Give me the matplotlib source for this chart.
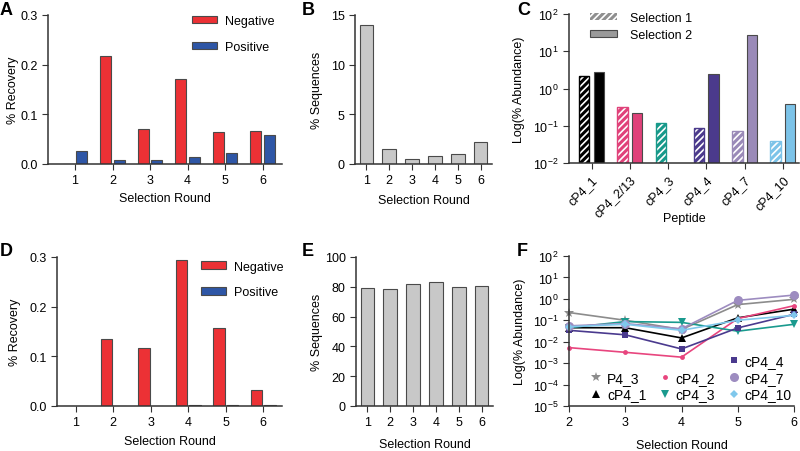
import numpy as np
import matplotlib
matplotlib.use("Agg")
import matplotlib.pyplot as plt
from matplotlib.patches import Patch
from matplotlib.lines import Line2D
from matplotlib.ticker import LogLocator, LogFormatterMathtext, NullLocator

plt.rcParams['font.family'] = ['Liberation Sans', 'DejaVu Sans']
plt.rcParams['mathtext.fontset'] = 'custom'
plt.rcParams['mathtext.rm'] = 'Liberation Sans'
plt.rcParams['mathtext.default'] = 'regular'
plt.rcParams['font.size'] = 9
plt.rcParams['axes.edgecolor'] = '#333333'
plt.rcParams['axes.linewidth'] = 1.1
plt.rcParams['xtick.major.size'] = 4
plt.rcParams['ytick.major.size'] = 4
plt.rcParams['xtick.color'] = '#333333'
plt.rcParams['ytick.color'] = '#333333'
plt.rcParams['xtick.labelcolor'] = 'black'
plt.rcParams['ytick.labelcolor'] = 'black'
plt.rcParams['hatch.linewidth'] = 1.2

# ---- data ----
rounds = [1, 2, 3, 4, 5, 6]

# Panel A: % recovery, selection 1
a_negative = [0.0, 0.218, 0.070, 0.171, 0.064, 0.066]
a_positive = [0.027, 0.008, 0.009, 0.015, 0.023, 0.058]

# Panel B: % sequences
b_sequences = [14.0, 1.5, 0.55, 0.85, 1.05, 2.2]

# Panel C: abundance per peptide
peptides = ['cP4_1', 'cP4_2/13', 'cP4_3', 'cP4_4', 'cP4_7', 'cP4_10']
c_selection1 = [2.1, 0.32, 0.118, 0.087, 0.072, 0.039]
c_selection2 = [2.74, 0.22, np.nan, 2.47, 28.0, 0.38]
peptide_colors = ['#000000', '#e0427a', '#17998a', '#4b3a8c', '#9a8ab8', '#7cc3e8']

# Panel D: % recovery, selection 2
d_negative = [0.0, 0.134, 0.117, 0.294, 0.158, 0.032]
d_positive = [0.0, 0.0, 0.0008, 0.0015, 0.003, 0.0015]

# Panel E: % sequences
e_sequences = [79.5, 78.8, 82.0, 83.0, 80.0, 80.5]

# Panel F: abundance over rounds
f_rounds = [2, 3, 4, 5, 6]
f_p4_3 = [0.23, 0.10, 0.037, 0.54, 0.95]
f_cp4_1 = [0.045, 0.045, 0.015, 0.13, 0.33]
f_cp4_2 = [0.0053, 0.0032, 0.0019, 0.12, 0.48]
f_cp4_3 = [0.045, 0.087, 0.08, 0.031, 0.065]
f_cp4_4 = [0.034, 0.021, 0.0046, 0.044, 0.19]
f_cp4_7 = [0.055, 0.07, 0.04, 0.85, 1.5]
f_cp4_10 = [0.05, 0.065, 0.034, 0.10, 0.17]

RED = '#ec3135'
BLUE = '#2e56a6'
GRAY = '#c8c8c8'
EDGE = '#4a4a4a'

W, H = 800, 452
fig = plt.figure(figsize=(8, 4.52), dpi=100)


def add_ax(left, top, right, bottom):
    return fig.add_axes([left / W, 1 - bottom / H, (right - left) / W, (bottom - top) / H])


def style(ax):
    ax.spines['top'].set_visible(False)
    ax.spines['right'].set_visible(False)


def panel_letter(x, y, s):
    fig.text(x / W, 1 - y / H, s, fontsize=13, fontweight='bold', va='top', ha='left')


# ---- Panel A ----
axA = add_ax(48, 16, 282, 165)
style(axA)
x = np.array(rounds)
axA.bar(x - 0.18, a_negative, 0.3, color=RED, edgecolor=EDGE, linewidth=0.8, label='Negative')
axA.bar(x + 0.18, a_positive, 0.3, color=BLUE, edgecolor=EDGE, linewidth=0.8, label='Positive')
axA.set_xlim(0.28, 6.52)
axA.set_ylim(0, 0.3)
axA.set_xticks(rounds)
axA.set_yticks([0.0, 0.1, 0.2, 0.3])
axA.set_yticklabels(['0.0', '0.1', '0.2', '0.3'])
axA.set_xlabel('Selection Round')
axA.set_ylabel('% Recovery')
axA.xaxis.set_label_coords(0.5, -0.19)
axA.yaxis.set_label_coords(-0.124, 0.5)
axA.legend(loc='upper left', bbox_to_anchor=(0.615, 1.0), frameon=False, borderpad=0,
           borderaxespad=0, handlelength=2.0, handleheight=0.55, handletextpad=0.65,
           labelspacing=1.1)
panel_letter(0, 2, 'A')

# ---- Panel B ----
axB = add_ax(355, 16, 492, 165)
style(axB)
axB.bar(rounds, b_sequences, 0.6, color=GRAY, edgecolor=EDGE, linewidth=0.8)
axB.set_xlim(0.5, 6.5)
axB.set_ylim(0, 15)
axB.set_xticks(rounds)
axB.set_yticks([0, 5, 10, 15])
axB.set_xlabel('Selection Round')
axB.set_ylabel('% Sequences')
axB.xaxis.set_label_coords(0.5, -0.2)
axB.yaxis.set_label_coords(-0.234, 0.5)
panel_letter(302, 2, 'B')

# ---- Panel C ----
axC = add_ax(569, 15, 799, 164)
style(axC)
xc = np.arange(len(peptides))
for i, col in enumerate(peptide_colors):
    axC.bar(xc[i] - 0.19, c_selection1[i], 0.27, color=col, edgecolor='white',
            hatch='/////', linewidth=0)
    axC.bar(xc[i] - 0.19, c_selection1[i], 0.27, fill=False, edgecolor=col, linewidth=1.0)
    axC.bar(xc[i] + 0.19, c_selection2[i], 0.27, color=col, edgecolor=EDGE, linewidth=0.8)
axC.set_yscale('log')
axC.set_ylim(1e-2, 1e2)
axC.set_xlim(-0.59, 5.42)
axC.yaxis.set_major_locator(LogLocator(base=10, numticks=10))
axC.yaxis.set_major_formatter(LogFormatterMathtext())
axC.yaxis.set_minor_locator(NullLocator())
axC.set_xticks(xc)
axC.set_xticklabels(peptides, rotation=45, ha='right', rotation_mode='anchor')
axC.set_xlabel('Peptide')
axC.set_ylabel('Log(% Abundance)')
axC.xaxis.set_label_coords(0.5, -0.33)
axC.yaxis.set_label_coords(-0.19, 0.5)
c_handles = [Patch(facecolor='#8f8f8f', edgecolor='white', hatch='/////', linewidth=0),
             Patch(facecolor='#9a9a9a', edgecolor=EDGE, linewidth=0.8)]
axC.legend(c_handles, ['Selection 1', 'Selection 2'], loc='upper left',
           bbox_to_anchor=(0.09, 1.015), frameon=False, borderpad=0, borderaxespad=0,
           handlelength=2.15, handleheight=0.5, handletextpad=1.1, labelspacing=0.4)
panel_letter(517, 2, 'C')

# ---- Panel D ----
axD = add_ax(57, 258, 282, 407)
style(axD)
axD.bar(x - 0.18, d_negative, 0.3, color=RED, edgecolor=EDGE, linewidth=0.8, label='Negative')
axD.bar(x + 0.18, d_positive, 0.3, color=BLUE, edgecolor=EDGE, linewidth=0.8, label='Positive')
axD.set_xlim(0.5, 6.5)
axD.set_ylim(0, 0.3)
axD.set_xticks(rounds)
axD.set_yticks([0.0, 0.1, 0.2, 0.3])
axD.set_yticklabels(['0.0', '0.1', '0.2', '0.3'])
axD.set_xlabel('Selection Round')
axD.set_ylabel('% Recovery')
axD.xaxis.set_label_coords(0.5, -0.195)
axD.yaxis.set_label_coords(-0.16, 0.5)
axD.legend(loc='upper left', bbox_to_anchor=(0.64, 0.976), frameon=False, borderpad=0,
           borderaxespad=0, handlelength=2.0, handleheight=0.55, handletextpad=0.65,
           labelspacing=1.1)
panel_letter(0, 243, 'D')

# ---- Panel E ----
axE = add_ax(356, 258, 493, 407)
style(axE)
axE.bar(rounds, e_sequences, 0.6, color=GRAY, edgecolor=EDGE, linewidth=0.8)
axE.set_xlim(0.5, 6.5)
axE.set_ylim(0, 100)
axE.set_xticks(rounds)
axE.set_yticks([0, 20, 40, 60, 80, 100])
axE.set_xlabel('Selection Round')
axE.set_ylabel('% Sequences')
axE.xaxis.set_label_coords(0.5, -0.215)
axE.yaxis.set_label_coords(-0.241, 0.5)
panel_letter(302, 243, 'E')

# ---- Panel F ----
axF = add_ax(569, 257, 794, 407)
style(axF)
series = [
    ('P4_3', f_p4_3, '#8c8c8c', '*', 7),
    ('cP4_1', f_cp4_1, '#000000', '^', 6),
    ('cP4_2', f_cp4_2, '#e8457e', 'o', 3.5),
    ('cP4_3', f_cp4_3, '#1a9a8e', 'v', 6),
    ('cP4_4', f_cp4_4, '#4a3a8e', 's', 4),
    ('cP4_7', f_cp4_7, '#9d8cc0', 'o', 6.5),
    ('cP4_10', f_cp4_10, '#80c8ec', 'D', 4),
]
lines = {}
for name, vals, col, mk, ms in series:
    axF.plot(f_rounds, vals, color=col, marker=mk, markersize=ms, linewidth=1.2,
             markeredgewidth=0, clip_on=False)
    lines[name] = Line2D([], [], color=col, marker=mk, markersize=ms, linestyle='none',
                         markeredgewidth=0)
axF.set_yscale('log')
axF.set_ylim(1e-5, 1e2)
axF.set_xlim(2, 6)
axF.yaxis.set_major_locator(LogLocator(base=10, numticks=12))
axF.yaxis.set_major_formatter(LogFormatterMathtext())
axF.yaxis.set_minor_locator(NullLocator())
axF.set_xticks(f_rounds)
axF.set_xlabel('Selection Round')
axF.set_ylabel('Log(% Abundance)')
axF.xaxis.set_label_coords(0.5, -0.22)
axF.yaxis.set_label_coords(-0.19, 0.5)
blank = Line2D([], [], linestyle='none')
f_handles = [blank, lines['P4_3'], lines['cP4_1'],
             blank, lines['cP4_2'], lines['cP4_3'],
             lines['cP4_4'], lines['cP4_7'], lines['cP4_10']]
f_labels = ['', 'P4_3', 'cP4_1', '', 'cP4_2', 'cP4_3', 'cP4_4', 'cP4_7', 'cP4_10']
axF.legend(f_handles, f_labels, ncol=3, loc='lower right', bbox_to_anchor=(0.99, 0.03),
           frameon=False, borderpad=0, borderaxespad=0, handlelength=0.8, fontsize=10,
           handletextpad=0.4, columnspacing=0.9, labelspacing=0.2)
panel_letter(517, 243, 'F')

fig.savefig('out.png', dpi=100)
